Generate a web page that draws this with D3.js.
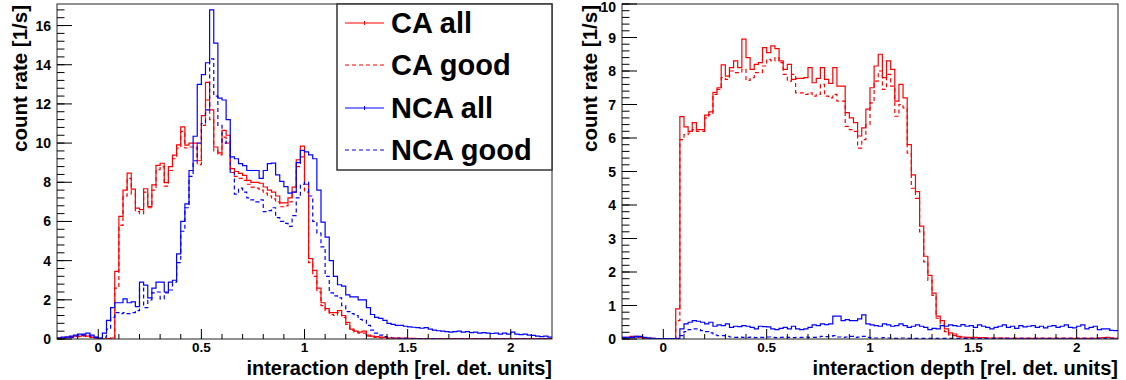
<!DOCTYPE html>
<html><head><meta charset="utf-8">
<script src="https://cdn.jsdelivr.net/npm/d3@7"></script>
<style>
body{margin:0;background:#fff}
text{font-family:"Liberation Sans",Arial,Helvetica,sans-serif;font-weight:bold;fill:#000}
</style>
</head><body>
<svg id="c" width="1126" height="380"></svg>
<script>
// ---- data ----
const binLo = -0.2, binW = 0.02;   // 120 bins from -0.2 to 2.2
const seriesNames = ["CA all", "CA good", "NCA all", "NCA good"];
const xTickValues = [0, 0.5, 1, 1.5, 2];
const xTickLabels = ["0", "0.5", "1", "1.5", "2"];
const yTicksLeft = [0, 2, 4, 6, 8, 10, 12, 14, 16];
const yTicksRight = [0, 1, 2, 3, 4, 5, 6, 7, 8, 9, 10];
const xTitle = "interaction depth [rel. det. units]";
const yTitle = "count rate [1/s]";

// left panel
const caAllL = [0.05,0.05,0.1,0.1,0.15,0.15,0.2,0.15,0.1,0.05,
 0,0,0.02,0.05,3.45,6.26,7.6,8.47,7.65,6.68,
 6.6,7.67,6.76,7.87,8.86,8.97,7.98,8.8,9.39,9.91,
 10.83,9.9,10.0,10.0,9.1,11.4,13.1,11.7,9.8,9.5,
 10.65,10.4,8.7,8.55,8.45,8.35,8.1,8.0,8.0,7.95,
 7.76,7.6,7.5,7.3,6.95,6.95,7.2,7.75,9.15,9.85,
 7.9,4.1,3.5,2.6,1.85,1.55,1.35,1.35,1.45,1.2,
 0.85,0.5,0.4,0.35,0.4,0.2,0.15,0.12,0.1,0.08,
 0.05,0.05,0.05,0.04,0.04,0.03,0.03,0.02,0.02,0.02,
 0.02,0.02,0.02,0.02,0.02,0.02,0.02,0.02,0.02,0.02,
 0.02,0.02,0.02,0.02,0.02,0.02,0.02,0.02,0.02,0.02,
 0.02,0.02,0.02,0.02,0.02,0.02,0.02,0.02,0.02,0.02];
const caGoodL = [0.04,0.04,0.08,0.08,0.12,0.12,0.15,0.12,0.08,0.04,
 0,0,0.01,0.03,2.6,5.8,7.3,8.2,7.4,6.5,
 6.4,7.5,6.7,7.6,8.65,8.8,7.8,8.6,9.2,9.75,
 10.6,9.75,9.8,9.75,8.9,10.9,12.2,11.2,9.6,9.4,
 10.3,10.0,8.5,8.3,8.2,8.1,7.9,7.75,7.7,7.6,
 7.45,7.3,7.15,7.0,6.75,6.8,7.0,7.5,8.8,9.3,
 7.5,3.9,3.2,2.4,1.7,1.45,1.25,1.2,1.35,1.1,
 0.75,0.45,0.35,0.3,0.3,0.15,0.1,0.08,0.06,0.05,
 0.03,0.03,0.02,0.02,0.02,0.01,0.01,0.01,0.01,0.01,
 0.01,0.01,0.01,0.01,0.01,0.01,0.01,0.01,0.01,0.01,
 0.01,0.01,0.01,0.01,0.01,0.01,0.01,0.01,0.01,0.01,
 0.01,0.01,0.01,0.01,0.01,0.01,0.01,0.01,0.01,0.01];
const ncaAllL = [0.05,0.1,0.1,0.15,0.2,0.25,0.25,0.3,0.2,0.1,
 0.05,0.3,0.95,1.6,1.85,1.85,2.05,1.85,1.9,1.65,
 2.9,2.75,2.1,2.6,2.9,2.9,2.4,2.9,3.0,4.35,
 6.0,6.9,8.6,10.35,13.0,13.5,14.1,16.8,15.1,12.3,
 12.2,11.2,9.3,9.2,8.95,8.85,8.6,8.6,8.6,8.2,
 8.6,8.95,8.98,8.38,8.05,7.78,7.45,7.5,9.0,9.63,
 9.55,9.4,9.2,7.6,5.97,5.2,4.0,3.2,2.77,2.7,
 2.25,2.15,2.15,2.0,2.0,1.6,1.25,1.1,1.05,0.95,
 0.8,0.75,0.7,0.7,0.65,0.62,0.6,0.58,0.55,0.58,
 0.5,0.45,0.42,0.4,0.38,0.35,0.38,0.4,0.35,0.38,
 0.33,0.35,0.3,0.33,0.3,0.28,0.3,0.25,0.3,0.25,
 0.35,0.25,0.22,0.25,0.2,0.18,0.15,0.12,0.15,0.1];
const ncaGoodL = [0.03,0.05,0.08,0.1,0.15,0.2,0.2,0.2,0.15,0.08,
 0.03,0.1,0.5,1.1,1.35,1.3,1.35,1.3,1.35,1.45,
 2.6,1.6,2.0,2.35,2.4,2.05,2.35,2.5,2.9,3.9,
 5.5,6.7,8.3,9.1,10.0,11.0,11.7,14.3,12.4,10.9,
 10.0,10.1,8.5,7.4,7.7,7.5,7.2,7.1,7.0,7.1,
 6.5,6.55,6.7,6.2,6.0,5.9,5.75,6.3,7.2,7.9,
 8.0,7.3,6.0,5.4,4.7,3.2,2.35,2.2,2.1,1.7,
 1.4,1.3,1.2,1.0,0.95,0.7,0.45,0.3,0.2,0.12,
 0.08,0.05,0.04,0.03,0.03,0.02,0.02,0.02,0.02,0.02,
 0.02,0.02,0.01,0.01,0.01,0.01,0.01,0.01,0.01,0.01,
 0.01,0.01,0.01,0.01,0.01,0.01,0.01,0.01,0.01,0.01,
 0.01,0.01,0.01,0.01,0.01,0.01,0.01,0.01,0.01,0.01];

// right panel
const caAllR = [0.05,0.05,0.08,0.08,0.05,0.02,0.02,0.02,0,0,
 0,0,0,0.9,6.64,6.33,6.2,6.46,6.25,6.25,
 6.68,6.78,7.36,7.5,8.18,7.85,8.1,8.3,8.1,8.95,
 8.4,8.05,8.2,8.25,8.7,8.55,8.75,8.67,8.3,8.05,
 8.2,7.75,7.78,7.78,7.8,8.1,7.65,7.78,8.1,7.75,
 7.63,8.1,7.55,7.55,6.76,6.6,6.46,6.06,6.3,6.86,
 7.5,8.15,8.5,7.8,8.3,8.05,7.1,7.6,7.2,5.8,
 4.9,4.4,3.37,2.47,1.9,1.37,0.68,0.55,0.3,0.18,
 0.15,0.08,0.06,0.05,0.05,0.05,0.04,0.04,0.03,0.03,
 0.03,0.03,0.03,0.02,0.02,0.02,0.02,0.02,0.02,0.02,
 0.02,0.02,0.02,0.02,0.02,0.02,0.02,0.02,0.02,0.02,
 0.02,0.02,0.02,0.02,0.02,0.03,0.04,0.05,0.03,0.02];
const caGoodR = [0.04,0.04,0.06,0.06,0.04,0.02,0.02,0.01,0,0,
 0,0,0,0.55,5.95,6.1,6.15,6.25,6.2,6.2,
 6.6,6.7,7.3,7.45,7.8,7.75,8.0,7.95,7.95,8.05,
 7.72,7.8,7.95,7.95,8.15,8.35,8.3,8.4,8.25,7.9,
 7.7,7.9,7.35,7.35,7.3,7.35,7.25,7.3,7.6,7.25,
 7.2,7.3,7.1,7.1,6.35,6.25,6.2,5.7,5.95,6.4,
 7.05,7.7,8.0,7.45,7.9,7.55,6.65,7.0,6.9,5.55,
 4.5,4.2,3.2,2.3,1.75,1.3,0.62,0.45,0.22,0.12,
 0.1,0.06,0.04,0.03,0.03,0.03,0.03,0.02,0.02,0.02,
 0.02,0.02,0.02,0.02,0.02,0.02,0.02,0.02,0.02,0.02,
 0.02,0.02,0.02,0.02,0.02,0.02,0.02,0.02,0.02,0.02,
 0.02,0.02,0.02,0.02,0.02,0.02,0.03,0.04,0.02,0.02];
const ncaAllR = [0.05,0.05,0.05,0.08,0.08,0.05,0.03,0.02,0.01,0.01,
 0.01,0.01,0.01,0.02,0.3,0.45,0.5,0.55,0.53,0.5,
 0.45,0.5,0.38,0.42,0.4,0.45,0.35,0.38,0.37,0.4,
 0.38,0.35,0.3,0.38,0.37,0.36,0.3,0.28,0.32,0.35,
 0.3,0.38,0.3,0.28,0.3,0.35,0.42,0.4,0.45,0.43,
 0.45,0.68,0.68,0.55,0.58,0.55,0.55,0.6,0.72,0.45,
 0.42,0.4,0.38,0.45,0.42,0.38,0.4,0.45,0.4,0.35,
 0.38,0.42,0.38,0.35,0.28,0.32,0.3,0.4,0.38,0.42,
 0.4,0.38,0.43,0.38,0.4,0.35,0.42,0.38,0.35,0.3,
 0.35,0.38,0.42,0.35,0.38,0.32,0.4,0.36,0.38,0.4,
 0.35,0.38,0.33,0.38,0.4,0.35,0.38,0.42,0.35,0.33,
 0.38,0.42,0.3,0.35,0.38,0.28,0.3,0.3,0.26,0.25];
const ncaGoodR = [0.03,0.04,0.05,0.06,0.05,0.04,0.02,0.01,0.01,0.01,
 0.01,0.01,0.01,0.01,0.1,0.22,0.28,0.3,0.3,0.25,
 0.22,0.18,0.12,0.1,0.1,0.08,0.06,0.05,0.06,0.05,
 0.05,0.06,0.04,0.05,0.05,0.06,0.05,0.04,0.05,0.06,
 0.05,0.04,0.05,0.05,0.06,0.05,0.05,0.06,0.08,0.07,
 0.08,0.1,0.06,0.05,0.06,0.08,0.05,0.06,0.08,0.05,
 0.04,0.03,0.03,0.04,0.03,0.03,0.02,0.03,0.03,0.02,
 0.02,0.02,0.02,0.02,0.02,0.02,0.02,0.02,0.02,0.02,
 0.02,0.02,0.02,0.02,0.02,0.02,0.02,0.02,0.02,0.02,
 0.02,0.02,0.02,0.02,0.02,0.02,0.02,0.02,0.02,0.02,
 0.02,0.02,0.02,0.02,0.02,0.02,0.02,0.02,0.02,0.02,
 0.02,0.02,0.02,0.02,0.02,0.02,0.02,0.02,0.02,0.02];

// ---- drawing ----
const styles = [
  {color:"#ff0000", dash:null},
  {color:"#ff0000", dash:"4,3"},
  {color:"#0000ff", dash:null},
  {color:"#0000ff", dash:"4,3"}
];
const panels = [
  {x0:57, x1:552, y0:4, y1:339, ymax:17.1, yTicks:yTicksLeft, yMinorStep:0.4,
   series:[caAllL, caGoodL, ncaAllL, ncaGoodL], legend:true, ytitleX:27},
  {x0:622, x1:1118, y0:4, y1:339, ymax:10, yTicks:yTicksRight, yMinorStep:0.2,
   series:[caAllR, caGoodR, ncaAllR, ncaGoodR], legend:false, ytitleX:597}
];

const svg = d3.select("#c");

panels.forEach((p, pi) => {
  const x = d3.scaleLinear().domain([binLo, binLo + binW * 120]).range([p.x0, p.x1]);
  const y = d3.scaleLinear().domain([0, p.ymax]).range([p.y1, p.y0]);
  const g = svg.append("g");

  g.append("clipPath").attr("id", "clip" + pi)
    .append("rect").attr("x", p.x0).attr("y", p.y0)
    .attr("width", p.x1 - p.x0).attr("height", p.y1 - p.y0);

  const line = d3.line().x(d => x(d[0])).y(d => y(d[1]));
  p.series.forEach((vals, si) => {
    const pts = [];
    vals.forEach((v, i) => {
      pts.push([binLo + i * binW, v]);
      pts.push([binLo + (i + 1) * binW, v]);
    });
    g.append("path").attr("d", line(pts))
      .attr("clip-path", "url(#clip" + pi + ")")
      .attr("fill", "none").attr("stroke", styles[si].color)
      .attr("stroke-width", 1.2)
      .attr("stroke-dasharray", styles[si].dash);
  });

  // frame
  g.append("rect").attr("x", p.x0).attr("y", p.y0)
    .attr("width", p.x1 - p.x0).attr("height", p.y1 - p.y0)
    .attr("fill", "none").attr("stroke", "#222").attr("stroke-width", 1);

  // x ticks (inside, upward)
  const xMinor = d3.range(-1, 22).map(i => i / 10);
  xMinor.forEach(v => {
    const isMajor = Math.abs(v * 2 - Math.round(v * 2)) < 1e-9;
    g.append("line").attr("x1", x(v)).attr("x2", x(v))
      .attr("y1", p.y1).attr("y2", p.y1 - (isMajor ? 10 : 5))
      .attr("stroke", "#000").attr("stroke-width", 1);
  });
  xTickValues.forEach((v, i) => {
    g.append("text").attr("x", x(v)).attr("y", 352)
      .attr("text-anchor", "middle").attr("font-size", 13.5).text(xTickLabels[i]);
  });

  // y ticks (inside, rightward)
  const nMinor = Math.round(p.ymax / p.yMinorStep);
  for (let i = 0; i <= nMinor; i++) {
    const v = i * p.yMinorStep;
    if (v > p.ymax) break;
    g.append("line").attr("x1", p.x0).attr("x2", p.x0 + 7.5)
      .attr("y1", y(v)).attr("y2", y(v)).attr("stroke", "#000").attr("stroke-width", 1);
  }
  p.yTicks.forEach(v => {
    g.append("line").attr("x1", p.x0).attr("x2", p.x0 + 15)
      .attr("y1", y(v)).attr("y2", y(v)).attr("stroke", "#000").attr("stroke-width", 1);
    g.append("text").attr("x", p.x0 - 6).attr("y", Math.max(y(v), 7)).attr("dy", "0.36em")
      .attr("text-anchor", "end").attr("font-size", 14).text(v);
  });

  // titles
  g.append("text").attr("x", p.x1).attr("y", 375)
    .attr("text-anchor", "end").attr("font-size", 20).text(xTitle);
  g.append("text").attr("transform", `translate(${p.ytitleX},${p.y0 + 1}) rotate(-90)`)
    .attr("text-anchor", "end").attr("font-size", 20.5).text(yTitle);

  if (p.legend) {
    const lx0 = 337, ly0 = p.y0, lx1 = p.x1, ly1 = 170;
    g.append("rect").attr("x", lx0).attr("y", ly0)
      .attr("width", lx1 - lx0).attr("height", ly1 - ly0)
      .attr("fill", "#fff").attr("stroke", "#333").attr("stroke-width", 1.5);
    const rows = [23, 65, 108, 150];
    seriesNames.forEach((name, i) => {
      const ry = rows[i];
      g.append("line").attr("x1", 345).attr("x2", 384).attr("y1", ry).attr("y2", ry)
        .attr("stroke", styles[i].color).attr("stroke-width", 1.2)
        .attr("stroke-dasharray", styles[i].dash);
      if (!styles[i].dash) {
        g.append("line").attr("x1", 364.5).attr("x2", 364.5).attr("y1", ry - 2).attr("y2", ry + 2)
          .attr("stroke", styles[i].color).attr("stroke-width", 1);
      }
      g.append("text").attr("x", 391).attr("y", ry).attr("dy", "0.36em")
        .attr("font-size", 29).text(name);
    });
  }
});
</script>
</body></html>
